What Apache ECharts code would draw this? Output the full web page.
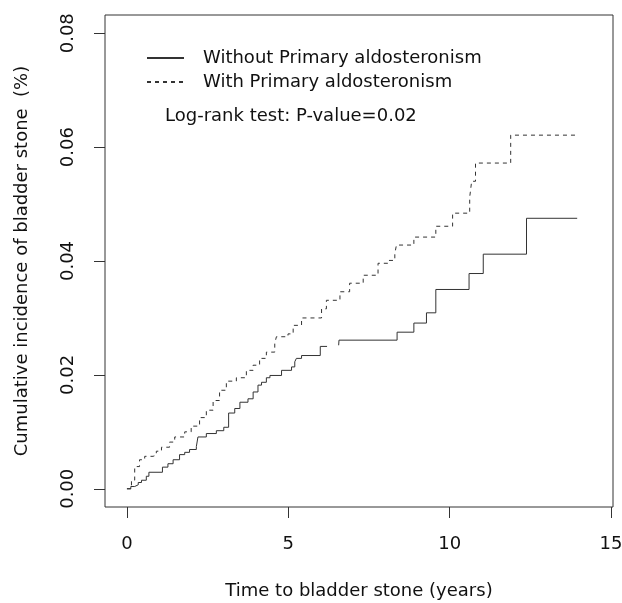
<!DOCTYPE html>
<html lang="en">
<head>
    <meta charset="UTF-8">
    <title>Cumulative incidence of bladder stone</title>
    <script src="https://cdn.jsdelivr.net/npm/echarts@6/dist/echarts.min.js"></script>
    <style type="text/css">
        html, body { margin: 0; padding: 0; background: #fff; }
        #box { width: 622px; height: 603px; }
    </style>
</head>
<body>
    <div id="box"></div>
</body>
</html>
<script>
    // step times (years) and cumulative incidence after each step
    var withoutT = [0, 0.12, 0.24, 0.35, 0.45, 0.6, 0.68, 1.1, 1.27, 1.43, 1.63, 1.79, 1.94, 2.15, 2.2, 2.46, 2.77, 3.0, 3.15,
        3.34, 3.5, 3.75, 3.91, 4.06, 4.17, 4.32, 4.43, 4.79, 5.1, 5.2, 5.25, 5.41, 5.99, 6.2, 6.56, 6.57, 8.37, 8.89, 9.28,
        9.57, 10.6, 11.04, 12.38, 13.95];
    var withoutY = [0, 0.0004, 0.0007, 0.0011, 0.0015, 0.0022, 0.0029, 0.0038, 0.0044, 0.0051, 0.006, 0.0064, 0.0069, 0.0074, 0.0091, 0.0097, 0.0102, 0.0108, 0.0133,
        0.0141, 0.0152, 0.0158, 0.017, 0.0182, 0.0187, 0.0195, 0.0199, 0.0208, 0.0214, 0.0223, 0.0229, 0.0234, 0.025, null, 0.0252, 0.0261, 0.0275, 0.0291, 0.0309,
        0.035, 0.0378, 0.0412, 0.0475, 0.0475];

    var withT = [0, 0.14, 0.24, 0.39, 0.55, 0.81, 0.91, 1.07, 1.32, 1.48, 1.79, 1.99, 2.25, 2.46, 2.67, 2.87, 3.08, 3.39, 3.7,
        3.91, 4.11, 4.32, 4.58, 4.63, 4.99, 5.15, 5.41, 6.03, 6.18, 6.6, 6.9, 7.32, 7.78, 8.09, 8.3, 8.35, 8.89, 9.57, 10.09,
        10.62, 10.68, 10.8, 11.89, 13.9];
    var withY = [0, 0.0015, 0.0039, 0.0051, 0.0057, 0.0059, 0.0066, 0.0073, 0.0082, 0.0091, 0.01, 0.011, 0.0125, 0.0138, 0.0155, 0.0173, 0.0189, 0.0195, 0.0208,
        0.0217, 0.0229, 0.024, 0.0255, 0.0267, 0.0272, 0.0287, 0.03, 0.0316, 0.0331, 0.0346, 0.0361, 0.0375, 0.0396, 0.0401, 0.0413, 0.0428, 0.0442, 0.0461, 0.0484,
        0.0512, 0.054, 0.0572, 0.0621, 0.0621];

    var xTicks = [0, 5, 10, 15];
    var yTicks = [0, 0.02, 0.04, 0.06, 0.08];
    var seriesNames = ['Without Primary aldosteronism', 'With Primary aldosteronism'];

    function pairs(t, y) {
        var out = [];
        for (let i = 0; i < t.length; i++) {
            out.push([t[i], y[i]]);
        }
        return out;
    }

    var font = 'DejaVu Sans';
    var ink = '#111';

    var mychart = echarts.init(document.getElementById('box'));
    mychart.setOption({
        animation: false,
        textStyle: { fontFamily: font },
        title: {
            text: 'Log-rank test: P-value=0.02',
            left: 165,
            top: 107,
            padding: 0,
            textStyle: { fontFamily: font, fontSize: 18, fontWeight: 'normal', color: ink }
        },
        legend: {
            orient: 'vertical',
            left: 146,
            top: 46,
            padding: 0,
            itemWidth: 37,
            itemHeight: 14,
            itemGap: 0,
            itemStyle: { opacity: 0 },
            data: seriesNames,
            textStyle: { fontFamily: font, fontSize: 18, color: ink, lineHeight: 24, padding: [0, 0, 0, 14] }
        },
        grid: {
            left: 105, top: 15, right: 9, bottom: 96,
            outerBoundsMode: 'none',
            show: true,
            borderColor: '#333',
            borderWidth: 1
        },
        xAxis: {
            type: 'value',
            min: -0.68,
            max: 15.06,
            name: 'Time to bladder stone (years)',
            nameLocation: 'middle',
            nameGap: 75,
            nameTextStyle: { fontFamily: font, fontSize: 18, color: ink },
            axisLine: { show: false, onZero: false },
            splitLine: { show: false },
            axisTick: { show: true, length: 11, customValues: xTicks, lineStyle: { color: '#333' } },
            axisLabel: {
                customValues: xTicks,
                margin: 28,
                fontFamily: font, fontSize: 18, color: ink,
                formatter: function (v) { return String(v); }
            }
        },
        yAxis: {
            type: 'value',
            min: -0.0032,
            max: 0.0832,
            name: 'Cumulative incidence of bladder stone  (%)',
            nameLocation: 'middle',
            nameGap: 74,
            nameTextStyle: { fontFamily: font, fontSize: 18, color: ink },
            axisLine: { show: false, onZero: false },
            splitLine: { show: false },
            axisTick: { show: true, length: 11, customValues: yTicks, lineStyle: { color: '#333' } },
            axisLabel: {
                customValues: yTicks,
                rotate: 90,
                margin: 28,
                fontFamily: font, fontSize: 18, color: ink,
                formatter: function (v) { return v.toFixed(2); }
            }
        },
        series: [{
            name: seriesNames[0],
            type: 'line',
            step: 'end',
            symbol: 'none',
            connectNulls: false,
            lineStyle: { color: '#333', width: 1, type: 'solid' },
            itemStyle: { color: '#333' },
            data: pairs(withoutT, withoutY)
        }, {
            name: seriesNames[1],
            type: 'line',
            step: 'end',
            symbol: 'none',
            lineStyle: { color: '#333', width: 1, type: [4, 4] },
            itemStyle: { color: '#333' },
            data: pairs(withT, withY)
        }]
    });
</script>
